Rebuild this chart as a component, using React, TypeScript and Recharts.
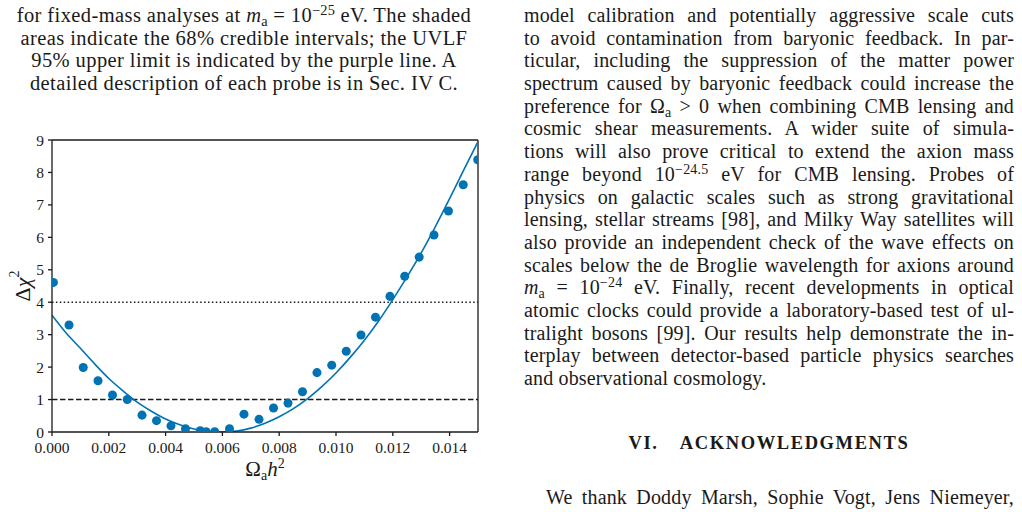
import React from 'react';
import {
  ComposedChart,
  Line,
  Scatter,
  XAxis,
  YAxis,
  ReferenceLine,
} from 'recharts';

// Δχ² profile: sampled points and the smooth fit through them
const pointX = [
  0.00005, 0.0006, 0.0011, 0.00162, 0.00213, 0.00265, 0.00317, 0.00368, 0.00419, 0.0047,
  0.00522, 0.00543, 0.00573, 0.00625, 0.00676, 0.00729, 0.0078, 0.00831, 0.00882, 0.00933,
  0.00985, 0.01036, 0.01088, 0.01139, 0.0119, 0.01242, 0.01293, 0.01345, 0.01396, 0.01448,
  0.01499,
];
const pointChi2 = [
  4.61, 3.3, 1.99, 1.58, 1.14, 1.0, 0.52, 0.35, 0.19, 0.1,
  0.04, 0.01, 0.01, 0.1, 0.55, 0.39, 0.74, 0.89, 1.24, 1.83,
  2.06, 2.49, 2.99, 3.54, 4.18, 4.8, 5.39, 6.07, 6.81, 7.62,
  8.39,
];

const fitX = [
  0, 0.0005, 0.001, 0.0015, 0.002, 0.0025, 0.003, 0.0035, 0.004, 0.0045, 0.005,
  0.0055, 0.006, 0.0065, 0.007, 0.0075, 0.008, 0.0085, 0.009, 0.0095, 0.01,
  0.0105, 0.011, 0.0115, 0.012, 0.0125, 0.013, 0.0135, 0.014, 0.0145, 0.015,
];
const fitChi2 = [
  3.6, 3.05, 2.58, 2.1, 1.65, 1.27, 0.92, 0.64, 0.4, 0.22, 0.09,
  0.02, 0.0, 0.03, 0.12, 0.27, 0.47, 0.72, 1.03, 1.4, 1.82,
  2.3, 2.83, 3.42, 4.08, 4.78, 5.52, 6.33, 7.19, 8.08, 8.95,
];

const xTicks = [0, 0.002, 0.004, 0.006, 0.008, 0.01, 0.012, 0.014];
const yTicks = [0, 1, 2, 3, 4, 5, 6, 7, 8, 9];
const oneSigma = 1;
const twoSigma = 4;

const points = pointX.map((x, i) => ({ x, y: pointChi2[i] }));
const fit = fitX.map((x, i) => ({ x, y: fitChi2[i] }));

const BLUE = '#0173b2';
const INK = '#1a1a1a';
const SERIF = '"Liberation Serif", "Times New Roman", serif';

const tickStyle = { fontFamily: SERIF, fontSize: 15.5, fill: INK };

const XLabel = ({ viewBox }: any) => {
  const cx = viewBox.x + viewBox.width / 2;
  return (
    <text x={cx} y={viewBox.y + 44} textAnchor="middle" fontFamily={SERIF} fontSize={21} fill={INK}>
      <tspan>Ω</tspan>
      <tspan fontSize={14} dy={4}>a</tspan>
      <tspan fontStyle="italic" dy={-4}>h</tspan>
      <tspan fontSize={14} dy={-8}>2</tspan>
    </text>
  );
};

const YLabel = ({ viewBox }: any) => {
  const cy = viewBox.y + viewBox.height / 2;
  const cx = 22;
  return (
    <text
      x={cx}
      y={cy}
      transform={`rotate(-90 ${cx} ${cy})`}
      textAnchor="middle"
      dominantBaseline="central"
      fontFamily={SERIF}
      fontSize={22}
      fill={INK}
    >
      <tspan>Δ</tspan>
      <tspan fontStyle="italic">χ</tspan>
      <tspan fontSize={14} dy={-8}>2</tspan>
    </text>
  );
};

const Chi2Chart = () => (
  <ComposedChart width={500} height={370} margin={{ top: 20, right: 22, bottom: 0, left: 0 }}>
    <XAxis
      dataKey="x"
      type="number"
      domain={[0, 0.015]}
      allowDataOverflow
      ticks={xTicks}
      tickFormatter={(v: number) => v.toFixed(3)}
      tick={tickStyle}
      tickSize={4}
      tickMargin={6}
      height={58}
      stroke={INK}
      strokeWidth={1.3}
      label={<XLabel />}
    />
    <YAxis
      type="number"
      domain={[0, 9]}
      allowDataOverflow
      ticks={yTicks}
      tick={tickStyle}
      tickSize={4}
      tickMargin={4}
      width={52}
      stroke={INK}
      strokeWidth={1.3}
      label={<YLabel />}
    />
    {/* closing frame on top and right */}
    <ReferenceLine y={9} stroke={INK} strokeWidth={1.3} />
    <ReferenceLine x={0.015} stroke={INK} strokeWidth={1.3} />
    <ReferenceLine y={oneSigma} stroke={INK} strokeWidth={1.5} strokeDasharray="5.5 2.5" />
    <ReferenceLine y={twoSigma} stroke={INK} strokeWidth={1.5} strokeDasharray="1.5 2.4" />
    <Line
      data={fit}
      dataKey="y"
      type="monotone"
      stroke={BLUE}
      strokeWidth={1.6}
      dot={false}
      isAnimationActive={false}
    />
    <Scatter data={points} dataKey="y" fill={BLUE} isAnimationActive={false} />
  </ComposedChart>
);

const sub: React.CSSProperties = { fontSize: '0.7em', verticalAlign: '-0.25em', lineHeight: 0, letterSpacing: 0 };
const sup: React.CSSProperties = { fontSize: '0.7em', verticalAlign: '0.5em', lineHeight: 0, letterSpacing: 0.2 };

const Ma = () => (
  <>
    <i>m</i>
    <span style={sub}>a</span>
  </>
);

const LINE_H = 22.7;

const J = ({ children, last }: { children: React.ReactNode; last?: boolean }) => (
  <div
    style={{
      height: LINE_H,
      lineHeight: `${LINE_H}px`,
      whiteSpace: 'nowrap',
      textAlign: 'justify',
      textAlignLast: last ? 'left' : 'justify',
    }}
  >
    {children}
  </div>
);

const C = ({ children }: { children: React.ReactNode }) => (
  <div style={{ height: LINE_H, lineHeight: `${LINE_H}px`, textAlign: 'center', whiteSpace: 'nowrap' }}>
    {children}
  </div>
);

export default function App() {
  return (
    <div
      style={{
        position: 'absolute',
        left: 0,
        top: 0,
        width: 1022,
        height: 512,
        overflow: 'hidden',
        background: '#fff',
        color: INK,
        fontFamily: SERIF,
        fontSize: 20.5,
        letterSpacing: 0.4,
      }}
    >
      {/* caption tail, left column */}
      <div style={{ position: 'absolute', left: 0, top: 4, width: 488 }}>
        <C>
          for fixed-mass analyses at <Ma /> = 10<span style={sup}>−25</span> eV. The shaded
        </C>
        <C>areas indicate the 68% credible intervals; the UVLF</C>
        <C>95% upper limit is indicated by the purple line. A</C>
        <C>detailed description of each probe is in Sec. IV C.</C>
      </div>

      <div style={{ position: 'absolute', left: 0, top: 120, letterSpacing: 0 }}>
        <Chi2Chart />
      </div>

      {/* right column */}
      <div style={{ position: 'absolute', left: 524, top: 4, width: 490, fontSize: 20, letterSpacing: 0.15 }}>
        <J>model calibration and potentially aggressive scale cuts</J>
        <J>to avoid contamination from baryonic feedback. In par-</J>
        <J>ticular, including the suppression of the matter power</J>
        <J>spectrum caused by baryonic feedback could increase the</J>
        <J>
          preference for Ω<span style={sub}>a</span> &gt; 0 when combining CMB lensing and
        </J>
        <J>cosmic shear measurements. A wider suite of simula-</J>
        <J>tions will also prove critical to extend the axion mass</J>
        <J>
          range beyond 10<span style={sup}>−24.5</span> eV for CMB lensing. Probes of
        </J>
        <J>physics on galactic scales such as strong gravitational</J>
        <J>lensing, stellar streams [98], and Milky Way satellites will</J>
        <J>also provide an independent check of the wave effects on</J>
        <J>scales below the de Broglie wavelength for axions around</J>
        <J>
          <Ma /> = 10<span style={sup}>−24</span> eV. Finally, recent developments in optical
        </J>
        <J>atomic clocks could provide a laboratory-based test of ul-</J>
        <J>tralight bosons [99]. Our results help demonstrate the in-</J>
        <J>terplay between detector-based particle physics searches</J>
        <J last>and observational cosmology.</J>
      </div>

      <div
        style={{
          position: 'absolute',
          left: 524,
          top: 432,
          width: 490,
          textAlign: 'center',
          fontWeight: 'bold',
          fontSize: 18.5,
          letterSpacing: 1.6,
          lineHeight: `${LINE_H}px`,
          wordSpacing: 16,
        }}
      >
        VI. ACKNOWLEDGMENTS
      </div>

      <div style={{ position: 'absolute', left: 524, top: 486, width: 490, fontSize: 20, letterSpacing: 0.15 }}>
        <div
          style={{
            height: LINE_H,
            lineHeight: `${LINE_H}px`,
            paddingLeft: 22,
            whiteSpace: 'nowrap',
            textAlign: 'justify',
            textAlignLast: 'justify',
          }}
        >
          We thank Doddy Marsh, Sophie Vogt, Jens Niemeyer,
        </div>
      </div>
    </div>
  );
}
